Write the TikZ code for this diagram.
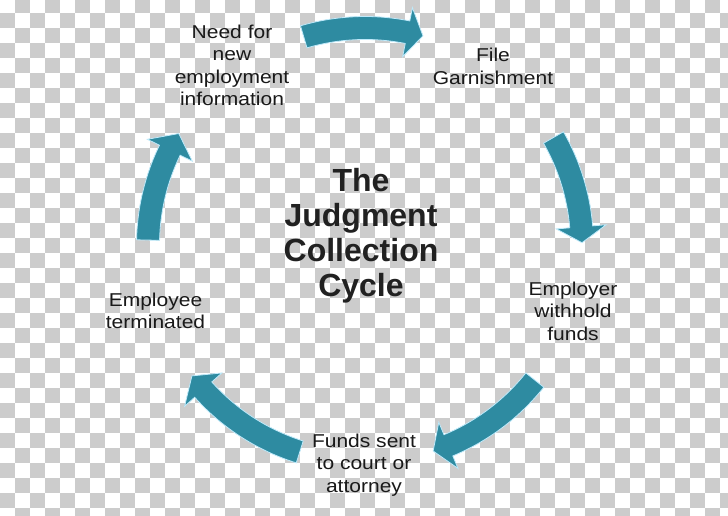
\documentclass[tikz,border=0pt]{standalone}
\usepackage{fontspec}
\setmainfont{Liberation Sans}
\newfontfamily\stagefont[FakeStretch=1.13]{Liberation Sans}
\usepackage{tikz}
\definecolor{cycleteal}{RGB}{46,139,161}
\definecolor{checkgray}{RGB}{204,204,204}

\begin{document}
\begin{tikzpicture}[x=1pt,y=1pt,
    stage/.style={align=center, inner sep=0pt, text=black!90,
      font=\stagefont\fontsize{18.6pt}{22.5pt}\selectfont},
    cycle title/.style={align=center, inner sep=0pt, text=black!87,
      font=\fontsize{32pt}{35pt}\selectfont\bfseries},
    bend arrow/.style={fill=cycleteal, draw=white!75!cyan, line width=0.8pt, line join=miter}]
    \useasboundingbox (0,0) rectangle (728,516);
    \fill[white] (0,0) rectangle (728,516);
    \begin{scope}
        \clip (0,0) rectangle (728,516);
        \foreach \j in {0,...,48}
            \foreach \k in {0,...,34}{
                \pgfmathtruncatemacro\chk{mod(\j+\k,2)}
                \ifnum\chk=1 \fill[checkgray] (15*\j,503-15*\k) rectangle ++(15,15); \fi
            }
    \end{scope}
    \coordinate (ctr) at (365,271);
    \foreach \from/\to/\tip in {106.4/78.7/74.5, 29.7/4.8/0.6, -38.5/-67.4/-71.7,
                                -107.5/-138.2/-142.9, 178.7/154.1/149.1}
        \filldraw[bend arrow] ([shift={(\from:228.5)}]ctr)
            arc[start angle=\from, end angle=\to, radius=228.5pt]
            -- ([shift={(\to:242)}]ctr) -- ([shift={(\tip:217)}]ctr)
            -- ([shift={(\to:192)}]ctr) -- ([shift={(\to:205.5)}]ctr)
            arc[start angle=\to, end angle=\from, radius=205.5pt] -- cycle;
    \node[stage] (need) at (232,450.5) {Need for\\new\\employment\\information};
    \node[stage] (file) at (493,449.5) {File\\Garnishment};
    \node[stage] (withhold) at (573,205) {Employer\\withhold\\funds};
    \node[stage] (sent) at (364,51) {Funds sent\\to court or\\attorney};
    \node[stage] (fired) at (155.5,205) {Employee\\terminated};
    \node[cycle title] (cycle) at (361,280) {The\\Judgment\\Collection\\Cycle};
\end{tikzpicture}
\end{document}
